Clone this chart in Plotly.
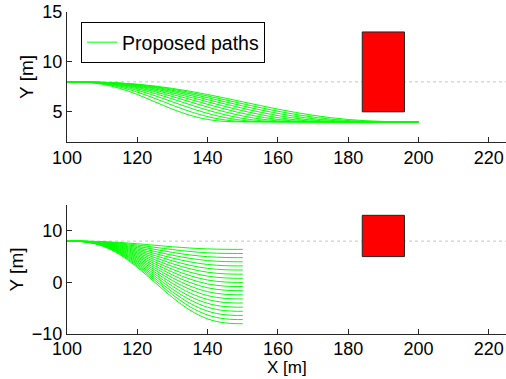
import plotly.graph_objects as go
from plotly.subplots import make_subplots

# Lane-change blend profile (fraction of lateral offset completed) sampled at
# equally spaced fractions of the manoeuvre length.
blend_profile = [0.0, 0.001, 0.009, 0.027, 0.058, 0.104, 0.163, 0.235, 0.317,
                 0.407, 0.5, 0.593, 0.683, 0.765, 0.837, 0.896, 0.942, 0.973,
                 0.991, 0.999, 1.0]

# Upper panel: every path goes from lane y=8 to y=4, with different manoeuvre ends
top_start = (100.0, 8.0)
top_target_y = 4.0
top_end_x = [150, 155, 160, 165, 170, 175, 180, 185, 190, 195, 200]
top_path_end = 200.0

# Lower panel: every path ends at x=150 with different lateral targets
bottom_start = (100.0, 8.0)
bottom_end_x = 150.0
bottom_target_y = [6.4, 5.6, 4.8, 4.0, 3.2, 2.4, 1.6, 0.8, 0.0, -0.8, -1.6,
                   -2.4, -3.2, -4.0, -4.8, -5.6, -6.4, -7.2, -8.0]

# Obstacle (x0, x1, y0, y1) and reference lane
obstacle = (184, 196, 5, 13)
lane_y = 8

x_ticks = [100, 120, 140, 160, 180, 200, 220]
top_y_ticks = [5, 10, 15]
bottom_y_ticks = [-10, 0, 10]

FONT = "Liberation Sans, Arial, sans-serif"
GREEN = "#00ff00"

fig = make_subplots(rows=2, cols=1, vertical_spacing=0.0)
n = len(blend_profile) - 1

def path(x0, y0, x1, y1):
    xs = [x0 + (x1 - x0) * i / n for i in range(n + 1)]
    ys = [y0 + (y1 - y0) * p for p in blend_profile]
    return xs, ys

for k, xe in enumerate(top_end_x):
    xs, ys = path(top_start[0], top_start[1], xe, top_target_y)
    if xe < top_path_end:
        xs.append(top_path_end)
        ys.append(top_target_y)
    fig.add_trace(go.Scatter(x=xs, y=ys, mode="lines", line=dict(color=GREEN, width=1, shape="spline"),
                             name="Proposed paths", legendgroup="paths", showlegend=(k == 0),
                             hoverinfo="skip"), row=1, col=1)

for ye in bottom_target_y:
    xs, ys = path(bottom_start[0], bottom_start[1], bottom_end_x, ye)
    fig.add_trace(go.Scatter(x=xs, y=ys, mode="lines", line=dict(color=GREEN, width=1, shape="spline"),
                             name="Proposed paths", legendgroup="paths", showlegend=False,
                             hoverinfo="skip"), row=2, col=1)

for ax in ("", "2"):
    fig.add_shape(type="line", xref="x" + ax + " domain", yref="y" + ax, x0=0, x1=1,
                  y0=lane_y, y1=lane_y, line=dict(color="#c4c4c4", width=1, dash="dot"), layer="below")
    fig.add_shape(type="rect", xref="x" + ax, yref="y" + ax, x0=obstacle[0], x1=obstacle[1],
                  y0=obstacle[2], y1=obstacle[3], fillcolor="#ff0000",
                  line=dict(color="#222222", width=1), layer="above")

axis_common = dict(showline=True, linecolor="#262626", linewidth=1, ticks="inside", ticklen=5,
                   tickcolor="#262626", showgrid=False, zeroline=False, mirror=False,
                   tickfont=dict(family=FONT, size=18, color="black"))

x_range = [100, 100 + (506 - 67) / 3.515]
fig.update_xaxes(range=x_range, tickvals=x_ticks, automargin=False, **axis_common)
fig.update_xaxes(row=2, col=1, ticklabelstandoff=-2)
fig.update_yaxes(automargin=False, **axis_common)
fig.update_yaxes(range=[2, 15], tickvals=top_y_ticks, domain=[0.597, 1.0], row=1, col=1,
                 title=dict(text="Y [m]", font=dict(family=FONT, size=19, color="black"), standoff=3))
fig.update_yaxes(range=[-10, 15], tickvals=bottom_y_ticks, ticktext=["\u221210", "0", "10"],
                 domain=[0.0, 0.4006], row=2, col=1,
                 title=dict(text="Y [m]", font=dict(family=FONT, size=19, color="black"), standoff=3))

# x-axis title of the lower panel, sitting at the bottom edge of the figure
fig.add_annotation(text="X [m]", xref="x2 domain", yref="paper", x=0.5, y=-45 / 322,
                   xanchor="center", yanchor="bottom", showarrow=False,
                   font=dict(family=FONT, size=17, color="black"))

fig.update_layout(
    width=506, height=379,
    margin=dict(l=67, r=0, t=12, b=45),
    paper_bgcolor="white", plot_bgcolor="white",
    font=dict(family=FONT, size=18, color="black"),
    legend=dict(x=0.032, y=0.969, xanchor="left", yanchor="top", bgcolor="white",
                bordercolor="black", borderwidth=1, itemwidth=30, tracegroupgap=0,
                font=dict(family=FONT, size=19.5, color="black")),
)

fig.write_html("out.html")
